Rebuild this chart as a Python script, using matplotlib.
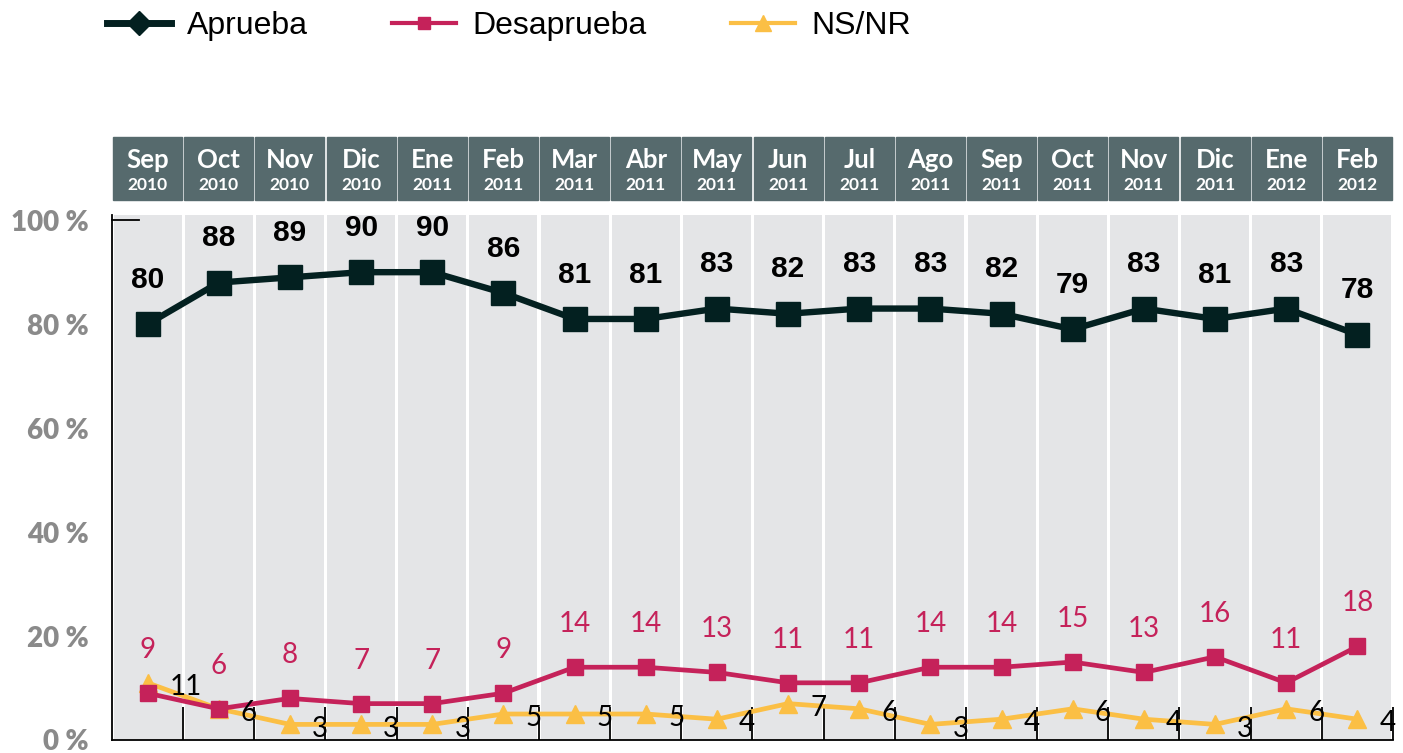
import matplotlib.pyplot as plt
from matplotlib.lines import Line2D
from matplotlib.patches import Rectangle
import matplotlib.transforms as mtransforms

meses = ["Sep", "Oct", "Nov", "Dic", "Ene", "Feb", "Mar", "Abr", "May", "Jun",
         "Jul", "Ago", "Sep", "Oct", "Nov", "Dic", "Ene", "Feb"]
anios = ["2010", "2010", "2010", "2010", "2011", "2011", "2011", "2011", "2011",
         "2011", "2011", "2011", "2011", "2011", "2011", "2011", "2012", "2012"]

aprueba = [80, 88, 89, 90, 90, 86, 81, 81, 83, 82, 83, 83, 82, 79, 83, 81, 83, 78]
desaprueba = [9, 6, 8, 7, 7, 9, 14, 14, 13, 11, 11, 14, 14, 15, 13, 16, 11, 18]
nsnr = [11, 6, 3, 3, 3, 5, 5, 5, 4, 7, 6, 3, 4, 6, 4, 3, 6, 4]

c_apr = "#032020"
c_des = "#c5225a"
c_ns = "#fbbf45"
c_head = "#566a6d"

x = list(range(len(meses)))

fig = plt.figure(figsize=(14.03, 7.53), dpi=100)
ax = fig.add_axes([112 / 1403, 1 - 740 / 753, 1281 / 1403, 525 / 753])

# bandas grises por mes
ax.bar(x, 101, width=0.955, color="#e4e5e7", zorder=0)

ax.plot(x, nsnr, color=c_ns, lw=3.4, marker="^", markersize=13, zorder=3)
ax.plot(x, desaprueba, color=c_des, lw=3.4, marker="s", markersize=11.5, zorder=4)
ax.plot(x, aprueba, color=c_apr, lw=4.6, marker="s", markersize=17, zorder=5)

for i in x:
    ax.annotate(str(aprueba[i]), (i, aprueba[i]), xytext=(0, 32), textcoords="offset points",
                ha="center", va="center", fontsize=21.5, fontweight="bold",
                family="Liberation Sans", color="black", zorder=6)
    ax.annotate(str(desaprueba[i]), (i, desaprueba[i]), xytext=(0, 31), textcoords="offset points",
                ha="center", va="center", fontsize=20, family="Lato", color=c_des, zorder=6)
    ax.annotate(str(nsnr[i]), (i, nsnr[i]), xytext=(16, -3), textcoords="offset points",
                ha="left", va="center", fontsize=20, family="Lato", color="black", zorder=6)

ax.set_xlim(-0.5, len(meses) - 0.5)
ax.set_ylim(0, 101)
ax.set_xticks([i + 0.5 for i in x])
ax.set_xticklabels([])
ax.tick_params(axis="x", direction="in", length=24, width=1.3, color="black")
ax.set_yticks([0, 20, 40, 60, 80, 100])
ax.set_yticklabels([f"{v} %" for v in [0, 20, 40, 60, 80, 100]],
                   fontsize=20, fontweight="heavy", family="Lato", color="#8a8a8a")
ax.tick_params(axis="y", length=0, pad=17)
for s in ["top", "right"]:
    ax.spines[s].set_visible(False)
ax.spines["left"].set_linewidth(1.3)
ax.spines["bottom"].set_linewidth(1.3)
ax.plot([-0.5, -0.12], [100, 100], color="black", lw=1.3, clip_on=False, zorder=6)

# cabeceras de meses
trans = mtransforms.blended_transform_factory(ax.transData, fig.transFigure)
y0 = 1 - 200 / 753
y1 = 1 - 137 / 753
for i in x:
    ax.add_patch(Rectangle((i - 0.485, y0), 0.97, y1 - y0, transform=trans,
                           color=c_head, clip_on=False))
    ax.text(i, 1 - 160 / 753, meses[i], transform=trans, ha="center", va="center",
            fontsize=18.5, fontweight="bold", family="Lato", color="white")
    ax.text(i, 1 - 185 / 753, anios[i], transform=trans, ha="center", va="center",
            fontsize=12.5, fontweight="bold", family="Lato", color="white")

handles = [
    Line2D([], [], color=c_apr, lw=5, marker="D", markersize=12),
    Line2D([], [], color=c_des, lw=3, marker="s", markersize=8),
    Line2D([], [], color=c_ns, lw=3, marker="^", markersize=11),
]
fig.legend(handles, ["Aprueba", "Desaprueba", "NS/NR"], loc="upper left",
           bbox_to_anchor=(78 / 1403, 1 + 18 / 753), ncol=3, frameon=False,
           prop={"family": "Liberation Sans", "size": 23},
           handlelength=2.0, columnspacing=2.65, handletextpad=0.5)

fig.savefig("out.png", dpi=100)
